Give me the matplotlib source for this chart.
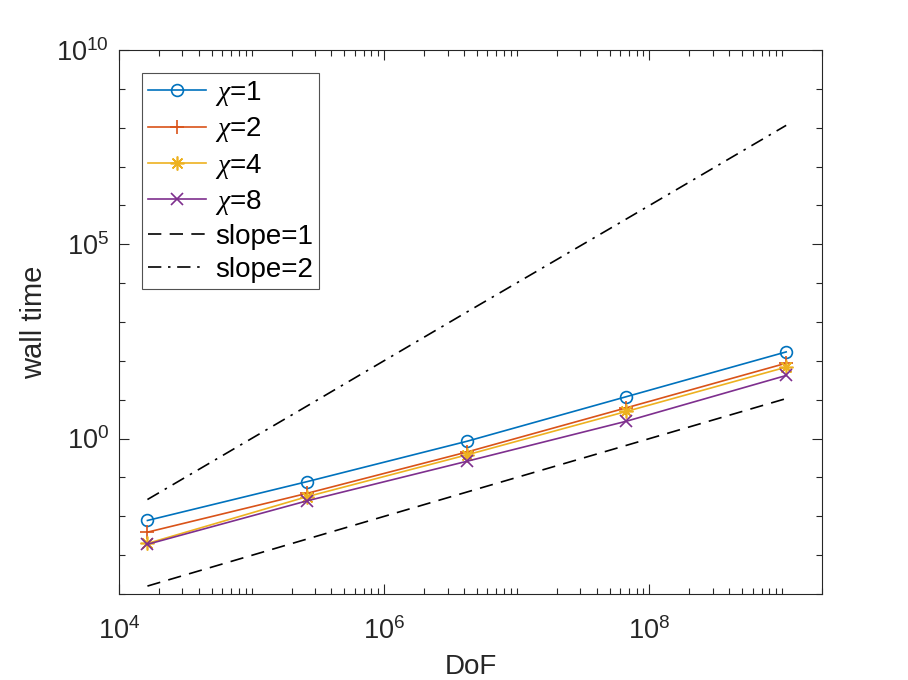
import numpy as np
import matplotlib
matplotlib.use('Agg')
import matplotlib.pyplot as plt
from matplotlib.ticker import LogLocator, NullFormatter

plt.rcParams['font.family'] = ['Liberation Sans', 'DejaVu Sans']
plt.rcParams['mathtext.fontset'] = 'custom'
plt.rcParams['mathtext.rm'] = 'Liberation Sans'
plt.rcParams['mathtext.it'] = 'Liberation Serif:italic'

# degrees of freedom (2^14 ... 2^30)
dof = [16384, 262144, 4194304, 67108864, 1073741824]

# wall times
time_chi1 = [0.0078, 0.078, 0.85, 12.0, 170.0]
time_chi2 = [0.0039, 0.039, 0.45, 6.2, 87.0]
time_chi4 = [0.0020, 0.032, 0.38, 5.0, 69.0]
time_chi8 = [0.0019, 0.025, 0.26, 2.8, 42.0]

# reference slopes
slope1 = [1.6e-4, 2.6e-3, 4.2e-2, 0.67, 10.7]
slope2 = [0.027, 6.9, 1.8e3, 4.5e5, 1.15e8]

labels = ['$\\chi$=1', '$\\chi$=2', '$\\chi$=4', '$\\chi$=8', 'slope=1', 'slope=2']

axcol = (0.15, 0.15, 0.15)

fig = plt.figure(figsize=(9.08, 6.8), dpi=100)
ax = fig.add_axes([119/908, 86/680, 703/908, 544/680])

ax.plot(dof, time_chi1, '-o', color='#0072BD', lw=1.2, ms=8.5, mfc='none', mew=1.2, label=labels[0])
ax.plot(dof, time_chi2, '-+', color='#D95319', lw=1.2, ms=10, mew=1.2, label=labels[1])
ax.plot(dof, time_chi4, '-', marker=(8, 2, 0), color='#EDB120', lw=1.2, ms=10, mew=1.2, label=labels[2])
ax.plot(dof, time_chi8, '-x', color='#7E2F8E', lw=1.2, ms=8.5, mew=1.2, label=labels[3])
ax.plot(dof, slope1, color='k', lw=1.2, ls=(0, (8, 5)), label=labels[4])
ax.plot(dof, slope2, color='k', lw=1.2, ls=(0, (8, 4, 1.5, 4)), label=labels[5])

ax.set_xscale('log')
ax.set_yscale('log')
ax.set_xlim(1e4, 2e9)
ax.set_ylim(1e-4, 1e10)

ax.set_xticks([1e4, 1e6, 1e8])
ax.xaxis.set_minor_locator(LogLocator(base=10, subs=np.arange(1, 10), numticks=50))
ax.xaxis.set_minor_formatter(NullFormatter())
ax.set_yticks([1e0, 1e5, 1e10])
ax.yaxis.set_minor_locator(LogLocator(base=10, subs=[1.0], numticks=50))
ax.yaxis.set_minor_formatter(NullFormatter())

ax.tick_params(which='both', direction='in', top=True, right=True, colors=axcol,
               labelsize=19.5, width=0.8)
ax.tick_params(which='major', length=7)
ax.tick_params(which='minor', length=4)
ax.tick_params(axis='x', which='major', pad=17)
ax.tick_params(axis='y', which='major', pad=7)
for s in ax.spines.values():
    s.set_color(axcol)
    s.set_linewidth(0.8)

ax.set_xlabel('DoF', fontsize=20, color=axcol, labelpad=6)
ax.set_ylabel('wall time', fontsize=21, color=axcol, labelpad=6)

leg = ax.legend(loc='upper left', bbox_to_anchor=(23/703, 1 - 23/544), borderaxespad=0,
                fontsize=20, handlelength=2.1, labelspacing=0.26, handletextpad=0.3,
                borderpad=0.22, fancybox=False, frameon=True)
leg.get_frame().set_edgecolor(axcol)
leg.get_frame().set_linewidth(0.8)

fig.savefig('out.png', dpi=100, facecolor='white')
